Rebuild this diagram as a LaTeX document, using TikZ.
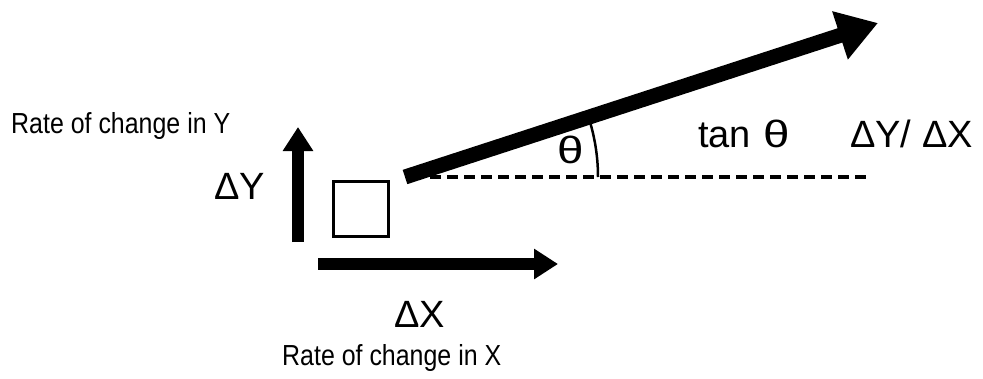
\documentclass[tikz,border=0pt]{standalone}
\usepackage{fontspec}
\usepackage{graphicx}
\setmainfont{Liberation Sans}
\newfontfamily\narrowfont[FakeStretch=0.86]{Liberation Sans}
\usetikzlibrary{arrows.meta}
\newcommand{\widetheta}{\scalebox{1.25}[1]{θ}}
\begin{document}
\begin{tikzpicture}[x=1pt,y=-1pt,
  lbl/.style={inner sep=0pt,anchor=base west,font=\narrowfont\fontsize{29}{34}\selectfont},
  big/.style={inner sep=0pt,anchor=base west,font=\fontsize{38}{44}\selectfont},
  fatarrow/.style={line width=12pt,-{Triangle[length=24pt,width=29pt]}},
  mainarrow/.style={line width=15pt,-{Triangle[length=40pt,width=48pt]}},
  box/.style={draw,line width=3pt,minimum size=55pt,inner sep=0pt},
  guide/.style={line width=3.2pt,dash pattern=on 11pt off 6pt},
  anglearc/.style={line width=2.5pt}]
\useasboundingbox (0,0) rectangle (983,378);
% labels
\node[lbl] (ry) at (11,133) {Rate of change in Y};
\node[lbl] (rx) at (282,365) {Rate of change in X};
\node[big] (dy) at (214,199) {ΔY};
\node[big] (dx) at (394,327) {ΔX};
\node[big] (th) at (557,163) {\widetheta};
\node[big] (tan) at (698,147) {tan\hspace{12pt}\widetheta};
\node[big] (ratio) at (850,147) {ΔY/ ΔX};
% square
\node[box] (sq) at (361,209) {};
% arrow coordinates
\coordinate (ya) at (298,242);
\coordinate (yb) at (298,127);
\coordinate (xa) at (318,264);
\coordinate (xb) at (558,264);
\coordinate (o) at (405,177);
\coordinate (tip) at (878,23);
\coordinate (da) at (430,177);
\coordinate (db) at (868,177);
\coordinate (arcstart) at (598,177);
% arrows
\draw[fatarrow] (ya) -- (yb);
\draw[fatarrow] (xa) -- (xb);
\draw[guide] (da) -- (db);
\draw[anglearc] (arcstart) arc[start angle=0,end angle=-16,radius=193];
\draw[mainarrow] (o) -- (tip);
\end{tikzpicture}
\end{document}
